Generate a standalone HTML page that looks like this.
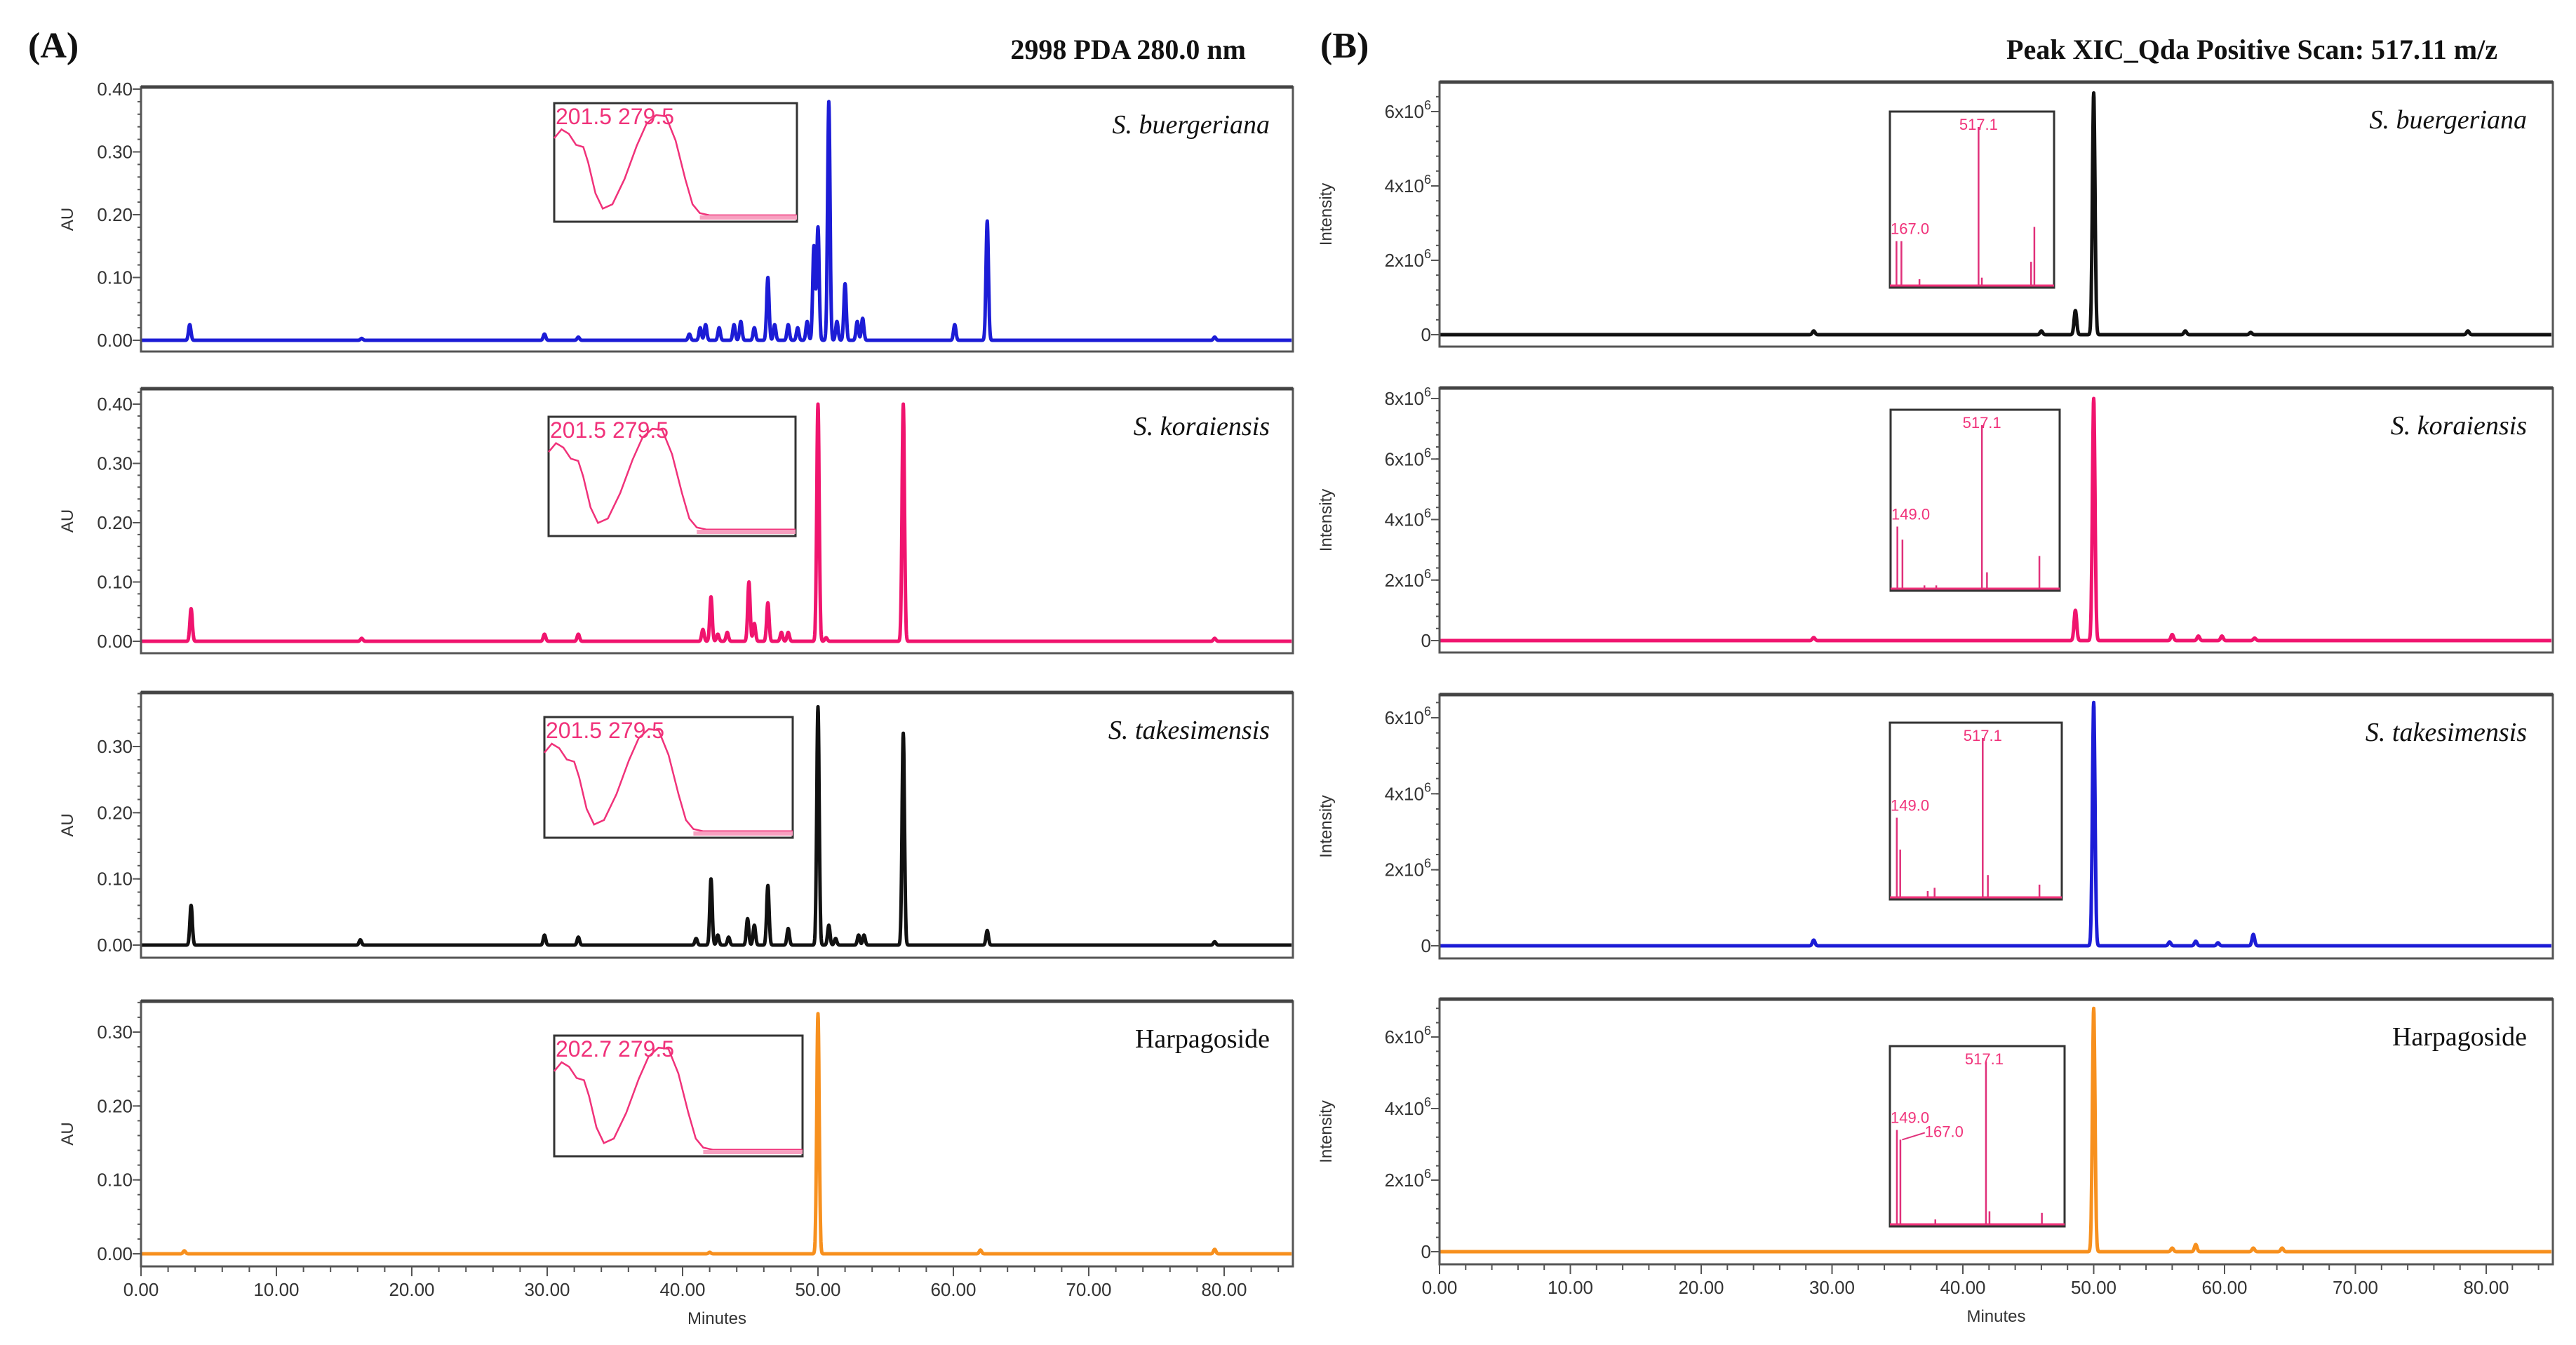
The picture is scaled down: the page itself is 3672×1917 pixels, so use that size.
<!DOCTYPE html>
<html><head><meta charset="utf-8">
<style>
html,body{margin:0;padding:0;background:#fff;}
svg{display:block;}
.tk{font-family:"Liberation Sans",sans-serif;font-size:26px;fill:#333;}
.ax{font-family:"Liberation Sans",sans-serif;font-size:24px;fill:#333;}
.sp{font-family:"Liberation Serif",serif;font-size:38px;font-style:italic;fill:#111;}
.ttl{font-family:"Liberation Serif",serif;font-weight:bold;fill:#111;}
.ins{font-family:"Liberation Sans",sans-serif;fill:#f0327a;}
</style></head>
<body>
<svg id="fig" width="3672" height="1917" viewBox="0 0 3672 1917" xmlns="http://www.w3.org/2000/svg">
<text class="ttl" x="40" y="82" font-size="52">(A)</text>
<text class="ttl" x="1776" y="84" font-size="40" text-anchor="end">2998 PDA 280.0 nm</text>
<text class="ttl" x="1882" y="82" font-size="52">(B)</text>
<text class="ttl" x="3560" y="84" font-size="40" text-anchor="end">Peak XIC_Qda Positive Scan: 517.11 m/z</text>
<g id="plots"></g>
</svg>
<script>
// ---- data (retention time in minutes, peak height) ----
const a1Times=[3.6,16.3,29.8,32.3,40.5,41.3,41.7,42.7,43.8,44.3,45.3,46.3,46.8,47.8,48.5,49.2,49.7,50.0,50.8,51.4,52.0,52.9,53.3,60.1,62.5,79.3];
const a1Heights=[0.025,0.003,0.01,0.005,0.01,0.02,0.025,0.02,0.025,0.03,0.02,0.10,0.025,0.025,0.02,0.03,0.15,0.18,0.38,0.03,0.09,0.03,0.035,0.025,0.19,0.005];
const a2Times=[3.7,16.3,29.8,32.3,41.5,42.1,42.6,43.3,44.9,45.3,46.3,47.3,47.8,50.0,50.6,56.3,79.3];
const a2Heights=[0.055,0.005,0.012,0.012,0.02,0.075,0.012,0.015,0.10,0.03,0.065,0.015,0.015,0.40,0.006,0.40,0.005];
const a3Times=[3.7,16.2,29.8,32.3,41.0,42.1,42.6,43.4,44.8,45.3,46.3,47.8,50.0,50.8,51.3,53.0,53.4,56.3,62.5,79.3];
const a3Heights=[0.06,0.008,0.015,0.012,0.01,0.10,0.015,0.012,0.04,0.03,0.09,0.025,0.36,0.03,0.01,0.015,0.015,0.32,0.022,0.005];
const a4Times=[3.2,42.0,50.0,62.0,79.3];
const a4Heights=[0.004,0.002,0.325,0.005,0.006];
const b1Times=[28.6,46.0,48.6,50.0,57.0,62.0,78.6];
const b1Heights=[0.1,0.1,0.65,6.5,0.1,0.06,0.1];
const b2Times=[28.6,48.6,50.0,56.0,58.0,59.8,62.3];
const b2Heights=[0.1,1.0,8.0,0.2,0.15,0.15,0.08];
const b3Times=[28.6,50.0,55.8,57.8,59.5,62.2];
const b3Heights=[0.15,6.4,0.1,0.12,0.08,0.3];
const b4Times=[50.0,56.0,57.8,62.2,64.4];
const b4Heights=[6.8,0.1,0.2,0.1,0.1];
const auTicks=[0,0.1,0.2,0.3,0.4];
const intTicks=[0,2,4,6,8];
const minuteTicks=[0,10,20,30,40,50,60,70,80];
const speciesNames=["S. buergeriana","S. koraiensis","S. takesimensis","Harpagoside"];
const uvLabels=["201.5 279.5","201.5 279.5","201.5 279.5","202.7 279.5"];
// UV spectrum inset (fractional x, fractional height)
const uvX=[0,0.03,0.06,0.09,0.12,0.14,0.17,0.2,0.24,0.29,0.34,0.38,0.42,0.46,0.5,0.54,0.57,0.6,0.64,0.7,0.8,1];
const uvY=[0.72,0.8,0.76,0.66,0.64,0.5,0.22,0.08,0.12,0.35,0.65,0.85,0.93,0.92,0.7,0.35,0.12,0.04,0.02,0.02,0.02,0.02];
// MS inset stick spectra
const msMz=[[0.04,0.07,0.18,0.54,0.56,0.86,0.88],[0.04,0.07,0.2,0.27,0.54,0.57,0.88],[0.04,0.06,0.22,0.26,0.54,0.57,0.87],[0.04,0.06,0.26,0.55,0.57,0.87]];
const msInt=[[0.28,0.28,0.04,1.0,0.05,0.15,0.37],[0.38,0.3,0.02,0.02,1.0,0.1,0.2],[0.5,0.3,0.04,0.06,1.0,0.14,0.08],[0.58,0.52,0.03,1.0,0.08,0.07]];
const msLabels=[["517.1","167.0"],["517.1","149.0"],["517.1","149.0"],["517.1","149.0","167.0"]];

const NS="http://www.w3.org/2000/svg";
const root=document.getElementById('plots');
function mk(tag,attrs,parent){const e=document.createElementNS(NS,tag);for(const k in attrs)e.setAttribute(k,attrs[k]);(parent||root).appendChild(e);return e;}

const colA=["#1c1cd6","#f0146e","#111111","#f7901e"];
const colB=["#111111","#f0146e","#1c1cd6","#f7901e"];
const panelsA=[
 {top:124,bot:501,y0:485,yv:0.4,yp:127,t:a1Times,h:a1Heights,ticks:[0,0.1,0.2,0.3,0.4],ins:[790,147,1136,316]},
 {top:554,bot:931,y0:914,yv:0.4,yp:576,t:a2Times,h:a2Heights,ticks:[0,0.1,0.2,0.3,0.4],ins:[782,594,1134,764]},
 {top:987,bot:1365,y0:1347,yv:0.3,yp:1064,t:a3Times,h:a3Heights,ticks:[0,0.1,0.2,0.3],ins:[776,1022,1130,1194]},
 {top:1427,bot:1805,y0:1787,yv:0.3,yp:1471,t:a4Times,h:a4Heights,ticks:[0,0.1,0.2,0.3],ins:[790,1476,1144,1648]}];
const panelsB=[
 {top:117,bot:494,y0:477,yv:6,yp:159,t:b1Times,h:b1Heights,ticks:[0,2,4,6],ins:[2694,159,2928,410]},
 {top:553,bot:930,y0:913,yv:8,yp:568,t:b2Times,h:b2Heights,ticks:[0,2,4,6,8],ins:[2695,584,2936,842]},
 {top:990,bot:1366,y0:1348,yv:6,yp:1023,t:b3Times,h:b3Heights,ticks:[0,2,4,6],ins:[2694,1030,2939,1282]},
 {top:1424,bot:1802,y0:1784,yv:6,yp:1478,t:b4Times,h:b4Heights,ticks:[0,2,4,6],ins:[2694,1491,2943,1748]}];

function drawPanel(p,i,side){
  const L=side==='A'?201:2052, R=side==='A'?1843:3639, X80=side==='A'?1745:3544;
  const xs=t=>L+(X80-L)*t/80;
  const ys=v=>p.y0-(p.y0-p.yp)*v/p.yv;
  const g=mk('g',{});
  
  
  let d='';const step=0.02, sig=side==='A'?0.09:0.1;
  for(let t=0;t<=85;t+=step){let v=0;for(let k=0;k<p.t.length;k++){const z=(t-p.t[k])/sig;if(Math.abs(z)<6)v+=p.h[k]*Math.exp(-0.5*z*z);}
    d+=(d?'L':'M')+xs(t).toFixed(1)+','+ys(v).toFixed(1);}
  const col=side==='A'?colA[i]:colB[i];
  const tr=mk('path',{d:d,fill:'none',stroke:col,'stroke-width':5,'stroke-linejoin':'round'},g);
  
  
  const fr=mk('rect',{x:L,y:p.top,width:R-L,height:p.bot-p.top,fill:'none',stroke:'#555','stroke-width':3},g);
  
  
  mk('line',{x1:L,y1:p.top,x2:R,y2:p.top,stroke:'#444','stroke-width':5},g);
  const minorStep=side==='A'?0.02:0.4;
  for(let v=0;;v+=minorStep){const y=ys(v);if(y<p.top)break;mk('line',{x1:L-5,y1:y,x2:L,y2:y,stroke:'#555','stroke-width':2},g);}
  p.ticks.forEach(v=>{const y=ys(v);mk('line',{x1:L-12,y1:y,x2:L,y2:y,stroke:'#555','stroke-width':2},g);
    const tx=mk('text',{x:L-12,y:y+9,'text-anchor':'end',class:'tk'},g);
    
    
    if(side==='A')tx.textContent=v.toFixed(2);
    else if(v===0)tx.textContent='0';
    else{tx.textContent=v+'x10';const s=mk('tspan',{dy:-12,'font-size':18},tx);s.textContent='6';}
  });
  const yt=mk('text',{x:0,y:0,transform:`translate(${side==='A'?104:1898},${(p.top+p.bot)/2}) rotate(-90)`,'text-anchor':'middle',class:'ax'},g);
  
  
  yt.textContent=side==='A'?'AU':'Intensity';
  const sp=mk('text',{x:side==='A'?1810:3602,y:p.top+66,'text-anchor':'end',class:'sp'},g);
  
  
  sp.textContent=speciesNames[i];
  if(i===3)sp.style.fontStyle='normal';
  const [x1,y1,x2,y2]=p.ins;const w=x2-x1,h=y2-y1;
  const ib=mk('rect',{x:x1,y:y1,width:w,height:h,fill:'#fff',stroke:'#333','stroke-width':3},g);
  
  
  if(side==='A'){
    let dd='';uvX.forEach((fx,k)=>{dd+=(k?'L':'M')+(x1+fx*w).toFixed(1)+','+(y2-6-uvY[k]*(h-12)).toFixed(1);});
    mk('path',{d:dd,fill:'none',stroke:'#f0327a','stroke-width':2.5},g);
    mk('line',{x1:x1+0.6*w,y1:y2-6,x2:x2,y2:y2-6,stroke:'#f7a0c0','stroke-width':6},g);
    const lt=mk('text',{x:x1+2,y:y1+30,class:'ins','font-size':32},g);
    
    
    lt.textContent=uvLabels[i];
  }else{
    const base=y2-3;
    mk('line',{x1:x1,y1:base,x2:x2,y2:base,stroke:'#f0327a','stroke-width':3},g);
    msMz[i].forEach((fx,k)=>{mk('line',{x1:x1+fx*w,y1:base,x2:x1+fx*w,y2:base-msInt[i][k]*(h-25),stroke:'#e0307a','stroke-width':2.5},g);});
    const labs=msLabels[i];
    const l1=mk('text',{x:x1+0.54*w,y:y1+26,class:'ins','font-size':22,'text-anchor':'middle'},g);
    
    
    l1.textContent=labs[0];
    const l2=mk('text',{x:x1+1,y:base-msInt[i][0]*(h-25)-10,class:'ins','font-size':22},g);
    
    
    l2.textContent=labs[1];
    if(labs[2]){const l3=mk('text',{x:x1+0.2*w,y:base-msInt[i][0]*(h-25)+10,class:'ins','font-size':22},g);
      
      
      l3.textContent=labs[2];
      mk('line',{x1:x1+0.07*w,y1:base-msInt[i][0]*(h-25)+14,x2:x1+0.2*w,y2:base-msInt[i][0]*(h-25)+4,stroke:'#e0307a','stroke-width':2},g);}
  }
  if(i===3){
    for(let t=0;t<=84;t+=2){const x=xs(t);mk('line',{x1:x,y1:p.bot,x2:x,y2:p.bot+(t%10===0?14:8),stroke:'#555','stroke-width':2},g);}
    minuteTicks.forEach(t=>{const tx=mk('text',{x:xs(t),y:p.bot+42,'text-anchor':'middle',class:'tk'},g);
      
      
      tx.textContent=t.toFixed(2);});
    const xt=mk('text',{x:(L+R)/2,y:p.bot+82,'text-anchor':'middle',class:'ax'},g);
    
    
    xt.textContent='Minutes';
  }
}
panelsA.forEach((p,i)=>drawPanel(p,i,'A'));
panelsB.forEach((p,i)=>drawPanel(p,i,'B'));
</script>
</body></html>
